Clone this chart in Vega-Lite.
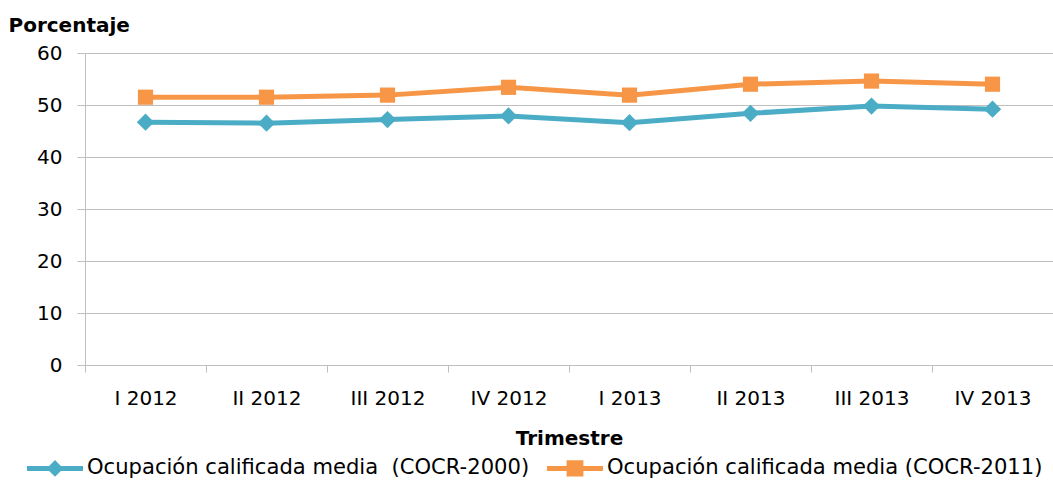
{
  "$schema": "https://vega.github.io/schema/vega-lite/v6.json",
  "width": 968,
  "height": 312,
  "autosize": {"type": "none"},
  "padding": {"left": 85, "top": 53, "right": 0, "bottom": 118},
  "background": "white",
  "config": {
    "font": "DejaVu Sans",
    "view": {"stroke": null},
    "axis": {"labelFont": "DejaVu Sans", "titleFont": "DejaVu Sans"},
    "legend": {"labelFont": "DejaVu Sans"}
  },
  "data": {
    "values": [
      {"trimestre": "I 2012", "serie": "Ocupación calificada media \u00a0(COCR-2000)", "valor": 46.7},
      {"trimestre": "II 2012", "serie": "Ocupación calificada media \u00a0(COCR-2000)", "valor": 46.5},
      {"trimestre": "III 2012", "serie": "Ocupación calificada media \u00a0(COCR-2000)", "valor": 47.2},
      {"trimestre": "IV 2012", "serie": "Ocupación calificada media \u00a0(COCR-2000)", "valor": 47.9},
      {"trimestre": "I 2013", "serie": "Ocupación calificada media \u00a0(COCR-2000)", "valor": 46.6},
      {"trimestre": "II 2013", "serie": "Ocupación calificada media \u00a0(COCR-2000)", "valor": 48.4},
      {"trimestre": "III 2013", "serie": "Ocupación calificada media \u00a0(COCR-2000)", "valor": 49.8},
      {"trimestre": "IV 2013", "serie": "Ocupación calificada media \u00a0(COCR-2000)", "valor": 49.2},
      {"trimestre": "I 2012", "serie": "Ocupación calificada media (COCR-2011)", "valor": 51.5},
      {"trimestre": "II 2012", "serie": "Ocupación calificada media (COCR-2011)", "valor": 51.5},
      {"trimestre": "III 2012", "serie": "Ocupación calificada media (COCR-2011)", "valor": 51.9},
      {"trimestre": "IV 2012", "serie": "Ocupación calificada media (COCR-2011)", "valor": 53.4},
      {"trimestre": "I 2013", "serie": "Ocupación calificada media (COCR-2011)", "valor": 51.9},
      {"trimestre": "II 2013", "serie": "Ocupación calificada media (COCR-2011)", "valor": 54.0},
      {"trimestre": "III 2013", "serie": "Ocupación calificada media (COCR-2011)", "valor": 54.6},
      {"trimestre": "IV 2013", "serie": "Ocupación calificada media (COCR-2011)", "valor": 54.0}
    ]
  },
  "encoding": {
    "x": {
      "field": "trimestre",
      "type": "ordinal",
      "sort": null,
      "bandPosition": 0.5,
      "scale": {"type": "band", "paddingInner": 0, "paddingOuter": 0},
      "axis": {
        "title": "Trimestre",
        "titleFontSize": 20,
        "titleFontWeight": "bold",
        "titleColor": "black",
        "titlePadding": 20,
        "labelAngle": 0,
        "labelFontSize": 20,
        "labelColor": "black",
        "labelPadding": 16,
        "tickBand": "extent",
        "tickSize": 7,
        "tickColor": "#BFBFBF",
        "domainColor": "#BFBFBF",
        "grid": false
      }
    },
    "y": {
      "field": "valor",
      "type": "quantitative",
      "scale": {"domain": [0, 60], "nice": false},
      "axis": {
        "title": "Porcentaje",
        "titleAngle": 0,
        "titleAlign": "left",
        "titleBaseline": "alphabetic",
        "titleX": -77,
        "titleY": -22,
        "titleFontSize": 20,
        "titleFontWeight": "bold",
        "titleColor": "black",
        "values": [0, 10, 20, 30, 40, 50, 60],
        "labelFontSize": 20,
        "labelColor": "black",
        "labelPadding": 15,
        "tickSize": 8,
        "tickColor": "#BFBFBF",
        "domainColor": "#BFBFBF",
        "gridColor": "#BFBFBF",
        "grid": true
      }
    },
    "color": {
      "field": "serie",
      "type": "nominal",
      "scale": {
        "domain": ["Ocupación calificada media \u00a0(COCR-2000)", "Ocupación calificada media (COCR-2011)"],
        "range": ["#4BACC6", "#F79646"]
      },
      "legend": {
        "title": null,
        "orient": "none",
        "direction": "horizontal",
        "legendX": -58,
        "legendY": 387,
        "labelFontSize": 21.1,
        "labelColor": "black",
        "labelOffset": 4,
        "labelLimit": 700,
        "symbolSize": 3136,
        "symbolType": "M-1,-0.09H1V0.09H-1Z",
        "symbolStrokeWidth": 0,
        "columnPadding": 17,
        "encode": {
          "symbols": {
            "update": {
              "shape": {"signal": "indexof(datum.value, '2000') >= 0 ? 'M-1,-0.09H1V0.09H-1Z M0,-0.3L0.3,0L0,0.3L-0.3,0Z' : 'M-1,-0.09H1V0.09H-1Z M-0.3,-0.29H0.3V0.29H-0.3Z'"},
              "strokeWidth": {"value": 0}
            }
          }
        }
      }
    }
  },
  "layer": [
    {"mark": {"type": "line", "strokeWidth": 5}},
    {
      "transform": [{"filter": "indexof(datum.serie, '2000') >= 0"}],
      "mark": {"type": "point", "filled": true, "opacity": 1, "shape": "diamond", "size": 300}
    },
    {
      "transform": [{"filter": "indexof(datum.serie, '2011') >= 0"}],
      "mark": {"type": "point", "filled": true, "opacity": 1, "shape": "square", "size": 230}
    }
  ]
}
